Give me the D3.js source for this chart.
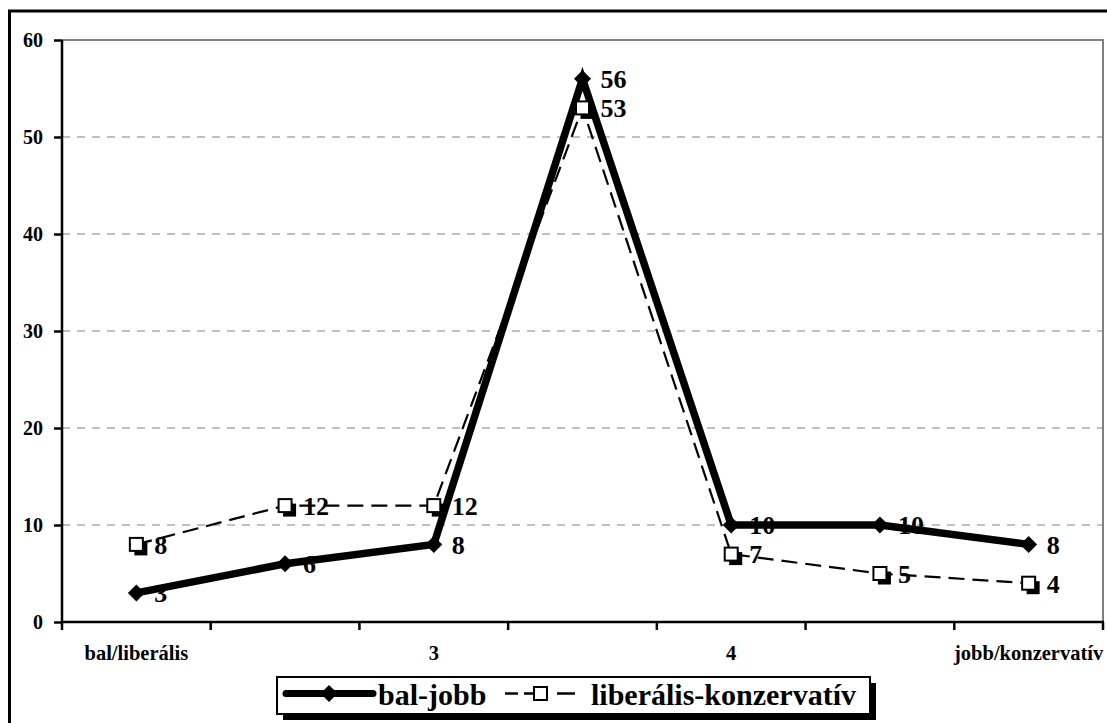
<!DOCTYPE html>
<html><head><meta charset="utf-8">
<script src="https://cdn.jsdelivr.net/npm/d3@7"></script>
<style>body{margin:0;background:#fff}svg{display:block}text{font-family:"Liberation Serif","Times New Roman",serif;font-weight:bold}</style>
</head><body><svg id="c" width="1107" height="723"></svg>
<script>
const categories = ["bal/liberális","2","3","4","5","6","jobb/konzervatív"];
const tickLabels = ["bal/liberális","","3","","4","","jobb/konzervatív"];
const balJobb = [3,6,8,56,10,10,8];
const libKonz = [8,12,12,53,7,5,4];
const yTicks = [0,10,20,30,40,50,60];
const seriesNames = ["bal-jobb","liberális-konzervatív"];

const svg = d3.select("#c");
const W=1107,H=723;
const m={l:62,r:1103,t:40,b:622};
svg.append("rect").attr("x",9.5).attr("y",11).attr("width",W+10).attr("height",H+10).attr("fill","#fff").attr("stroke","#000").attr("stroke-width",3);

const x = d3.scaleBand().domain(categories).range([m.l,m.r]).padding(0);
const y = d3.scaleLinear().domain([0,60]).range([m.b,m.t]);
const cx = d=>x(d)+x.bandwidth()/2;

// gridlines
svg.append("g").selectAll("line").data(yTicks.filter(v=>v>0&&v<60)).join("line")
 .attr("x1",m.l).attr("x2",m.r).attr("y1",d=>y(d)).attr("y2",d=>y(d))
 .attr("stroke","#c0c0c0").attr("stroke-width",2).attr("stroke-dasharray","8,7");
// plot border top/right
svg.append("path").attr("d",`M${m.l},${y(60)}H${m.r}V${m.b}`).attr("fill","none").attr("stroke","#808080").attr("stroke-width",2);

// y axis
const ya = svg.append("g").attr("transform",`translate(${m.l},0)`)
 .call(d3.axisLeft(y).tickValues(yTicks).tickSize(8).tickPadding(11));
ya.select(".domain").attr("stroke","#000").attr("stroke-width",2.5).attr("d",`M0,${m.t}V${m.b}`);
ya.selectAll(".tick line").attr("stroke","#000").attr("stroke-width",2.5);
ya.selectAll(".tick text").attr("font-size",20).attr("fill","#000").attr("font-family","Liberation Serif").attr("font-weight","bold");

// x axis
const xLin = d3.scaleLinear().domain([0,categories.length]).range([m.l,m.r]);
const xa = svg.append("g").attr("transform",`translate(0,${m.b})`);
xa.append("line").attr("x1",m.l).attr("x2",m.r+1).attr("stroke","#000").attr("stroke-width",2.5);
xa.selectAll("line.t").data(d3.range(categories.length+1)).join("line").attr("class","t")
 .attr("x1",d=>xLin(d)).attr("x2",d=>xLin(d)).attr("y1",0).attr("y2",8).attr("stroke","#000").attr("stroke-width",2.5);
xa.selectAll("text").data(categories).join("text")
 .attr("x",d=>cx(d)).attr("y",38).attr("text-anchor","middle").attr("font-size",20.5).attr("fill","#000")
 .text((d,i)=>tickLabels[i]);

const line = d3.line().x((d,i)=>cx(categories[i])).y(d=>y(d));

// lib-konz dashed
svg.append("path").datum(libKonz).attr("d",line).attr("fill","none").attr("stroke","#000").attr("stroke-width",2.2).attr("stroke-dasharray","16,8");
// bal-jobb thick
svg.append("path").datum(balJobb).attr("d",line).attr("fill","none").attr("stroke","#000").attr("stroke-width",7.5).attr("stroke-linejoin","miter");

// diamonds
svg.append("g").selectAll("path").data(balJobb).join("path")
 .attr("transform",(d,i)=>`translate(${cx(categories[i])},${y(d)}) rotate(45)`)
 .attr("d",d3.symbol().type(d3.symbolSquare).size(144)).attr("fill","#000");

// squares with shadow
const sq = svg.append("g").selectAll("g").data(libKonz).join("g")
 .attr("transform",(d,i)=>`translate(${cx(categories[i])},${y(d)})`);
sq.append("rect").attr("x",-2).attr("y",-2).attr("width",13).attr("height",13).attr("fill","#000");
sq.append("rect").attr("x",-6.5).attr("y",-6.5).attr("width",13).attr("height",13).attr("fill","#fff").attr("stroke","#000").attr("stroke-width",2);

// labels
const lbl=(arr)=>svg.append("g").selectAll("text").data(arr).join("text")
 .attr("x",(d,i)=>cx(categories[i])+18).attr("y",d=>y(d)).attr("dy","0.36em")
 .attr("font-size",26).attr("fill","#000").text(d=>d);
lbl(balJobb); lbl(libKonz);

// legend
const lg = svg.append("g").attr("transform","translate(277,677)");
lg.append("rect").attr("x",6).attr("y",6).attr("width",593).attr("height",37).attr("fill","#000");
lg.append("rect").attr("x",0).attr("y",0).attr("width",593).attr("height",37).attr("fill","#fff").attr("stroke","#000").attr("stroke-width",2);
lg.append("line").attr("x1",9).attr("x2",96).attr("y1",16.5).attr("y2",16.5).attr("stroke","#000").attr("stroke-width",7).attr("stroke-linecap","round");
lg.append("path").attr("transform","translate(52,16.5) rotate(45)").attr("d",d3.symbol().type(d3.symbolSquare).size(144)).attr("fill","#000");
lg.append("text").attr("x",101).attr("y",28).attr("font-size",30).attr("fill","#000").text(seriesNames[0]);
lg.append("line").attr("x1",228).attr("x2",241).attr("y1",16.5).attr("y2",16.5).attr("stroke","#000").attr("stroke-width",2.5);
lg.append("line").attr("x1",247).attr("x2",256).attr("y1",16.5).attr("y2",16.5).attr("stroke","#000").attr("stroke-width",2.5);
lg.append("line").attr("x1",280).attr("x2",298).attr("y1",16.5).attr("y2",16.5).attr("stroke","#000").attr("stroke-width",2.5);
lg.append("rect").attr("x",257).attr("y",10).attr("width",13).attr("height",13).attr("fill","#fff").attr("stroke","#000").attr("stroke-width",2);
lg.append("text").attr("x",314).attr("y",28).attr("font-size",30).attr("fill","#000").text(seriesNames[1]);
</script></body></html>
